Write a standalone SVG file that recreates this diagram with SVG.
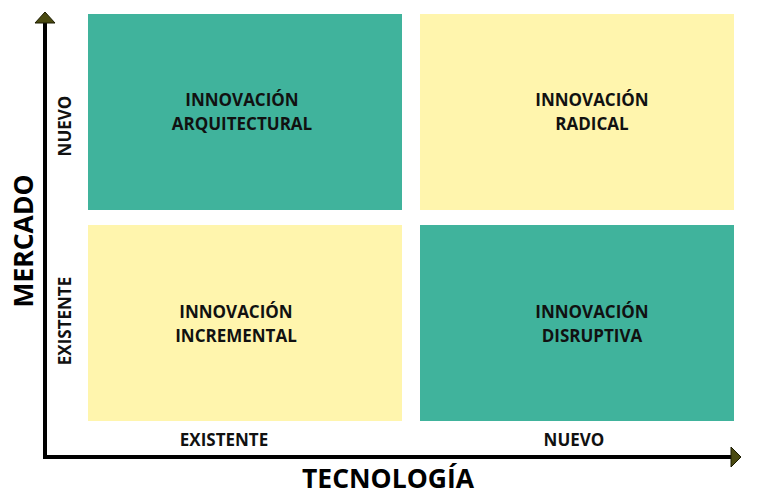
<svg xmlns="http://www.w3.org/2000/svg" width="760" height="500" viewBox="0 0 760 500">
<style>
.green{fill:#40b39c}
.yellow{fill:#fff5ad}
.q{font-family:"Open Sans","Noto Sans",sans-serif;font-weight:700;font-size:17px;fill:#111;text-anchor:middle}
.lbl{font-family:"Open Sans","Noto Sans",sans-serif;font-weight:700;font-size:17px;fill:#111;text-anchor:middle}
.ttl{font-family:"Open Sans","Noto Sans",sans-serif;font-weight:700;font-size:26.5px;fill:#000;text-anchor:middle}
.axis{stroke:#000;stroke-width:4;fill:none}
.head{fill:#4a4a10;stroke:#1a1a00;stroke-width:1}
</style>
<rect width="760" height="500" fill="#fff"/>
<g id="q-arquitectural">
<rect class="green" x="88" y="14" width="314" height="196"/>
<text class="q" x="242" y="106">INNOVACIÓN</text>
<text class="q" x="242" y="130">ARQUITECTURAL</text>
</g>
<g id="q-radical">
<rect class="yellow" x="420" y="14" width="314" height="196"/>
<text class="q" x="592" y="106">INNOVACIÓN</text>
<text class="q" x="592" y="130">RADICAL</text>
</g>
<g id="q-incremental">
<rect class="yellow" x="88" y="225" width="314" height="196"/>
<text class="q" x="236" y="318">INNOVACIÓN</text>
<text class="q" x="236" y="342">INCREMENTAL</text>
</g>
<g id="q-disruptiva">
<rect class="green" x="420" y="225" width="314" height="196"/>
<text class="q" x="592" y="318">INNOVACIÓN</text>
<text class="q" x="592" y="342">DISRUPTIVA</text>
</g>
<g id="connectors">
<polyline class="axis" points="45,23 45,457 731,457"/>
<polygon class="head" points="45,12 35,23 55,23"/>
<polygon class="head" points="741,457 731,447 731,467"/>
</g>
<g id="labels">
<text class="lbl" x="224" y="446">EXISTENTE</text>
<text class="lbl" x="574" y="446">NUEVO</text>
<text class="lbl" transform="translate(71,126) rotate(-90)">NUEVO</text>
<text class="lbl" transform="translate(71,321) rotate(-90)">EXISTENTE</text>
<text class="ttl" transform="translate(33,241) rotate(-90)">MERCADO</text>
<text class="ttl" x="388" y="488">TECNOLOGÍA</text>
</g>
</svg>
